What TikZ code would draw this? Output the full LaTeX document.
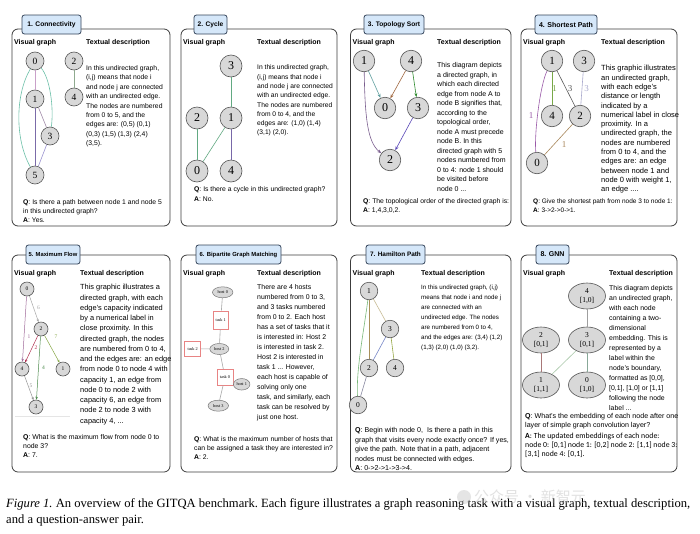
\documentclass[tikz,border=0pt]{standalone}
\usepackage{fontspec}
\setmainfont{Liberation Sans}
\newfontfamily\sernum{Liberation Serif}
\newfontfamily\calib{Carlito}
\newfontfamily\cjkf{Noto Sans CJK SC}
\usetikzlibrary{arrows.meta,shapes.geometric}
\definecolor{tabfill}{HTML}{D5E7F9}
\definecolor{tabdraw}{HTML}{34445A}
\definecolor{boxdraw}{HTML}{3C3C3C}
\definecolor{nodefill}{HTML}{D8D8D8}
\definecolor{nodedraw}{HTML}{555555}
\definecolor{taskred}{HTML}{E88484}
\definecolor{cA}{HTML}{C9A0C9}
\definecolor{cB}{HTML}{6CC0A8}
\definecolor{cC}{HTML}{7B6BA8}
\definecolor{cD}{HTML}{A08AA8}
\definecolor{cE}{HTML}{9A92D0}
\definecolor{cF}{HTML}{8FAA8F}
\definecolor{cG}{HTML}{62A982}
\definecolor{cH}{HTML}{7868A8}
\definecolor{cI}{HTML}{5E9E9E}
\definecolor{cJ}{HTML}{A0673F}
\definecolor{cK}{HTML}{2E8B2E}
\definecolor{cL}{HTML}{5A48B8}
\definecolor{cM}{HTML}{7A5E8E}
\definecolor{cN}{HTML}{78A848}
\definecolor{cO}{HTML}{5A5A5A}
\definecolor{cP}{HTML}{A8A8CC}
\definecolor{cQ}{HTML}{9A5AA8}
\definecolor{cR}{HTML}{A8865A}
\definecolor{cS}{HTML}{A06A9A}
\definecolor{cT}{HTML}{A8A8A8}
\definecolor{cU}{HTML}{B03050}
\definecolor{cV}{HTML}{88A848}
\definecolor{cW}{HTML}{4A8A4A}
\definecolor{cX}{HTML}{78B878}
\definecolor{cY}{HTML}{A8905A}
\definecolor{cZ}{HTML}{C8BC96}
\definecolor{dA}{HTML}{7888C8}
\definecolor{dB}{HTML}{98A848}
\definecolor{dC}{HTML}{8888A0}
\definecolor{dD}{HTML}{A87878}
\definecolor{dE}{HTML}{A8C8A8}
\definecolor{dF}{HTML}{88A898}
\newcommand\fs[2]{\fontsize{#1}{#2}\selectfont}
\begin{document}
\begin{tikzpicture}[x=1pt,y=-1pt,
  panelbox/.style={draw=boxdraw, line width=0.8pt, rounded corners=6pt},
  tabbox/.style={draw=tabdraw, line width=0.8pt, fill=tabfill, rounded corners=2.5pt, inner sep=0pt, minimum height=19pt},
  hdr/.style={anchor=base west, inner sep=0pt, font=\fs{7}{8}\bfseries},
  desc/.style={anchor=north west, inner sep=0pt, align=left},
  gnode/.style={circle, draw=nodedraw, fill=nodefill, line width=0.6pt, inner sep=0pt, font=\sernum},
  gedge/.style={line width=0.6pt},
  arr/.style={-{Stealth[length=4pt,width=3pt]}, line width=0.6pt},
  sarr/.style={-{Stealth[length=3pt,width=2.4pt]}, line width=0.5pt},
  hostn/.style={ellipse, draw=nodedraw!80, fill=nodefill, line width=0.5pt, inner sep=0pt, font=\sernum\fs{4.3}{5}},
  taskn/.style={rectangle, draw=taskred, fill=white, line width=0.7pt, inner sep=0pt, font=\sernum\fs{4.3}{5}},
  elbl/.style={inner sep=0pt, font=\sernum\fs{9}{10}},
  slbl/.style={inner sep=0pt, font=\sernum\fs{5.5}{6}},
  gell/.style={ellipse, draw=nodedraw, fill=nodefill, line width=0.6pt, inner sep=0pt, minimum width=37pt, minimum height=26pt, align=center, font=\sernum\fs{7.5}{8.5}}
]
\useasboundingbox (0,0) rectangle (700,533);
\fill[white] (0,0) rectangle (700,533);

% ---------------- Panel 1 ----------------
\draw[panelbox] (12,29) rectangle (170,226);
\node[tabbox, minimum width=59pt, font=\fs{6.7}{8}\bfseries] (t1) at (51.5,24.5) {1. Connectivity};
\node[hdr] (h1a) at (14,44.5) {Visual graph};
\node[hdr] (h1b) at (86,44.5) {Textual description};
\begin{scope}[every node/.append style={gnode, minimum size=18pt, font=\sernum\fs{9.5}{10}}]
\node (p1n0) at (35,61) {0};
\node (p1n1) at (35,99) {1};
\node (p1n3) at (50,136) {3};
\node (p1n5) at (35,175) {5};
\node (p1n2) at (74,61) {2};
\node (p1n4) at (74,97) {4};
\end{scope}
\draw[gedge, cA] (p1n0) -- (p1n1);
\draw[gedge, cB] (p1n0) .. controls (15,95) and (15,140) .. (p1n5);
\draw[gedge, cB] (p1n0) .. controls (50,78) and (54,108) .. (p1n3);
\draw[gedge, cC] (p1n1) -- (p1n5);
\draw[gedge, cD] (p1n1) -- (p1n3);
\draw[gedge, cE] (p1n3) -- (p1n5);
\draw[gedge, cF] (p1n2) -- (p1n4);
\node[desc, font=\fs{6.8}{9.4}] (d1) at (86,65.4) {In this undirected graph,\\(i,j) means that node i\\and node j are connected\\with an undirected edge.\\The nodes are numbered\\from 0 to 5, and the\\edges are: (0,5) (0,1)\\(0,3) (1,5) (1,3) (2,4)\\(3,5).};
\node[desc, font=\fs{6.8}{8.9}] (q1) at (23,199.8) {\textbf{Q}: Is there a path between node 1 and node 5\\in this undirected graph?\\\textbf{A}: Yes.};

% ---------------- Panel 2 ----------------
\draw[panelbox] (181,29) rectangle (337,226);
\node[tabbox, minimum width=33pt, font=\fs{6.6}{8}\bfseries] (t2) at (210.5,24.5) {2. Cycle};
\node[hdr] (h2a) at (183,44.5) {Visual graph};
\node[hdr] (h2b) at (257,44.5) {Textual description};
\begin{scope}[every node/.append style={gnode, minimum size=22pt, font=\sernum\fs{12}{12}}]
\node (p2n3) at (231,66) {3};
\node (p2n2) at (197,118) {2};
\node (p2n1) at (231,118) {1};
\node (p2n0) at (197,171) {0};
\node (p2n4) at (231,171) {4};
\end{scope}
\draw[gedge, cG] (p2n3) -- (p2n1);
\draw[gedge, cG] (p2n2) -- (p2n0);
\draw[gedge, cG] (p2n1) -- (p2n0);
\draw[gedge, cH] (p2n1) -- (p2n4);
\node[desc, font=\fs{6.7}{9.3}] (d2) at (257,64.8) {In this undirected graph,\\(i,j) means that node i\\and node j are connected\\with an undirected edge.\\The nodes are numbered\\from 0 to 4, and the\\edges are: (1,0) (1,4)\\(3,1) (2,0).};
\node[desc, font=\fs{6.8}{9.2}] (q2) at (194,186.8) {\textbf{Q}: Is there a cycle in this undirected graph?\\\textbf{A}: No.};

% ---------------- Panel 3 ----------------
\draw[panelbox] (350.5,29) rectangle (511,226);
\node[tabbox, minimum width=60pt, font=\fs{6.6}{8}\bfseries] (t3) at (394,24.5) {3. Topology Sort};
\node[hdr] (h3a) at (352.5,44.5) {Visual graph};
\node[hdr] (h3b) at (437,44.5) {Textual description};
\begin{scope}[every node/.append style={gnode, minimum size=21.5pt, font=\sernum\fs{12}{12}}]
\node (p3n1) at (364,61) {1};
\node (p3n4) at (411,61) {4};
\node (p3n0) at (385,108) {0};
\node (p3n3) at (418,108) {3};
\node (p3n2) at (390,160) {2};
\end{scope}
\draw[arr, cI] (p3n1) -- (p3n0);
\draw[arr, cJ] (p3n4) -- (p3n0);
\draw[arr, cK] (p3n4) -- (p3n3);
\draw[arr, cL] (p3n3) -- (p3n2);
\draw[arr, cM] (p3n1) .. controls (365,115) and (367,142) .. (p3n2);
\node[desc, font=\fs{7}{9.5}] (d3) at (437,62.7) {This diagram depicts\\a directed graph, in\\which each directed\\edge from node A to\\node B signifies that,\\according to the\\topological order,\\node A must precede\\node B. In this\\directed graph with 5\\nodes numbered from\\0 to 4: node 1 should\\be visited before\\node 0 ...};
\node[desc, font=\fs{6.8}{8.4}] (q3) at (363,198.8) {\textbf{Q}: The topological order of the directed graph is:\\\textbf{A}: 1,4,3,0,2.};

% ---------------- Panel 4 ----------------
\draw[panelbox] (521,29) rectangle (677,226);
\node[tabbox, minimum width=62pt, font=\fs{7}{8}\bfseries] (t4) at (566,24.5) {4. Shortest Path};
\node[hdr] (h4a) at (523,44.5) {Visual graph};
\node[hdr] (h4b) at (601,44.5) {Textual description};
\begin{scope}[every node/.append style={gnode, minimum size=21.5pt, font=\sernum\fs{11}{11}}]
\node (p4n1) at (552,61) {1};
\node (p4n3) at (584,61) {3};
\node (p4n4) at (552,116) {4};
\node (p4n2) at (580,116) {2};
\node (p4n0) at (537,163) {0};
\end{scope}
\draw[gedge, cN] (p4n1) -- (p4n4);
\draw[gedge, cO] (p4n1) -- (p4n2);
\draw[gedge, cP] (p4n3) -- (p4n2);
\draw[gedge, cQ] (p4n1) .. controls (540,85) and (534,135) .. (p4n0);
\draw[gedge, cR] (p4n2) -- (p4n0);
\node[elbl, text=cN] (l4a) at (554.5,89) {1};
\node[elbl, text=cO] (l4b) at (570,89) {3};
\node[elbl, text=cP] (l4c) at (586.5,89) {3};
\node[elbl, text=cQ] (l4d) at (531,116) {1};
\node[elbl, text=cR] (l4e) at (564,144.5) {1};
\node[desc, font=\fs{7.5}{9.3}] (d4) at (601,65.2) {This graphic illustrates\\an undirected graph,\\with each edge's\\distance or length\\indicated by a\\numerical label in close\\proximity. In a\\undirected graph, the\\nodes are numbered\\from 0 to 4, and the\\edges are: an edge\\between node 1 and\\node 0 with weight 1,\\an edge ....};
\node[desc, font=\fs{6.5}{8.4}] (q4) at (533,198.8) {\textbf{Q}: Give the shortest path from node 3 to node 1:\\\textbf{A}: 3->2->0->1.};

% ---------------- Panel 5 ----------------
\draw[panelbox] (12,255) rectangle (170,472);
\node[tabbox, minimum width=54pt, font=\fs{5.8}{7}\bfseries] (t5) at (53,254.5) {5. Maximum Flow};
\node[hdr] (h5a) at (14,275.5) {Visual graph};
\node[hdr] (h5b) at (80,275.5) {Textual description};
\begin{scope}[every node/.append style={gnode, minimum size=14pt, font=\sernum\fs{5.5}{6}}]
\node (p5n0) at (27,289) {0};
\node (p5n2) at (41,329) {2};
\node (p5n4) at (22,369) {4};
\node (p5n1) at (63,369) {1};
\node (p5n3) at (36,407) {3};
\end{scope}
\draw[sarr, cS] (p5n0) -- (p5n4);
\draw[sarr, cT] (p5n0) -- (p5n2);
\draw[sarr, cU] (p5n2) -- (p5n4);
\draw[sarr, cV] (p5n2) -- (p5n1);
\draw[sarr, cW] (p5n2) -- (p5n3);
\draw[sarr, cT!90!black] (p5n4) -- (p5n3);
\node[slbl, text=cS] (l5a) at (29,337) {1};
\node[slbl, text=cT] (l5b) at (38.5,308) {6};
\node[slbl, text=cU] (l5c) at (36,348) {2};
\node[slbl, text=cV] (l5d) at (56,337) {7};
\node[slbl, text=cW] (l5e) at (43.5,368) {4};
\node[slbl, text=cT!90!black] (l5f) at (31,385.5) {5};
\draw[gray!20, line width=0.5pt] (15,416) -- (70,416);
\node[desc, font=\fs{7.4}{10.25}] (d5) at (80,284.4) {This graphic illustrates a\\directed graph, with each\\edge's capacity indicated\\by a numerical label in\\close proximity. In this\\directed graph, the nodes\\are numbered from 0 to 4,\\and the edges are: an edge\\from node 0 to node 4 with\\capacity 1, an edge from\\node 0 to node 2 with\\capacity 6, an edge from\\node 2 to node 3 with\\capacity 4, ...};
\node[desc, font=\fs{6.9}{8.6}] (q5) at (23,434.7) {\textbf{Q}: What is the maximum flow from node 0 to\\node 3?\\\textbf{A}: 7.};

% ---------------- Panel 6 ----------------
\draw[panelbox] (181,255) rectangle (337,472);
\node[tabbox, minimum width=85pt, font=\fs{5.9}{7}\bfseries] (t6) at (238.5,254.5) {6. Bipartite Graph Matching};
\node[hdr] (h6a) at (183,275.5) {Visual graph};
\node[hdr] (h6b) at (257,275.5) {Textual description};
\node[hostn, minimum width=20.5pt, minimum height=11pt] (host0) at (222.7,292.3) {host 0};
\node[taskn, minimum width=15.5pt, minimum height=18pt] (task1) at (220.7,320) {task 1};
\node[taskn, minimum width=16pt, minimum height=15pt] (task2) at (192.7,348.7) {task 2};
\node[hostn, minimum width=19pt, minimum height=11pt] (host2) at (219.3,349) {host 2};
\node[taskn, minimum width=16pt, minimum height=15.5pt] (task0) at (225,377.3) {task 0};
\node[hostn, minimum width=16.5pt, minimum height=11.5pt] (host1) at (241.7,384.3) {host 1};
\node[hostn, minimum width=20.5pt, minimum height=11pt] (host3) at (218.3,405.7) {host 3};
\draw[gedge, gray!70] (host0) -- (task1);
\draw[gedge, gray!70] (task1) -- (host2);
\draw[gedge, gray!70] (task2) -- (host2);
\draw[gedge, gray!70] (host2) -- (task0);
\draw[gedge, gray!70] (task0) -- (host1);
\draw[gedge, gray!70] (task0) -- (host3);
\node[desc, font=\fs{6.9}{10}] (d6) at (257,284.7) {There are 4 hosts\\numbered from 0 to 3,\\and 3 tasks numbered\\from 0 to 2. Each host\\has a set of tasks that it\\is interested in: Host 2\\is interested in task 2.\\Host 2 is interested in\\task 1 ... However,\\each host is capable of\\solving only one\\task, and similarly, each\\task can be resolved by\\just one host.};
\node[desc, font=\fs{6.8}{8.6}] (q6) at (194,436.8) {\textbf{Q}: What is the maximum number of hosts that\\can be assigned a task they are interested in?\\\textbf{A}: 2.};

% ---------------- Panel 7 ----------------
\draw[panelbox] (350.5,255) rectangle (511,472);
\node[tabbox, minimum width=59pt, font=\fs{6.4}{8}\bfseries] (t7) at (395.5,254.5) {7. Hamilton Path};
\node[hdr] (h7a) at (352.5,275.5) {Visual graph};
\node[hdr] (h7b) at (421,275.5) {Textual description};
\begin{scope}[every node/.append style={gnode, minimum size=17.5pt, font=\sernum\fs{7.5}{8}}]
\node (p7n1) at (369,291) {1};
\node (p7n3) at (390,329) {3};
\node (p7n2) at (369,368) {2};
\node (p7n4) at (395,368) {4};
\node (p7n0) at (358,405) {0};
\end{scope}
\draw[gedge, cX] (p7n1) .. controls (364,330) and (356,370) .. (p7n0);
\draw[gedge, cY] (p7n1) -- (p7n2);
\draw[gedge, cZ] (p7n1) -- (p7n3);
\draw[gedge, dA] (p7n3) -- (p7n2);
\draw[gedge, dB] (p7n3) -- (p7n4);
\draw[gedge, dC] (p7n2) -- (p7n0);
\node[desc, font=\fs{6.2}{10}] (d7) at (421,285) {In this undirected graph, (i,j)\\means that node i and node j\\are connected with an\\undirected edge. The nodes\\are numbered from 0 to 4,\\and the edges are: (3,4) (1,2)\\(1,3) (2,0) (1,0) (3,2).};
\node[desc, font=\fs{7.1}{9.5}] (q7) at (355,427.6) {\textbf{Q}: Begin with node 0,\ \ Is there a path in this\\graph that visits every node exactly once? If yes,\\give the path. Note that in a path, adjacent\\nodes must be connected with edges.\\\textbf{A}: 0->2->1->3->4.};

% ---------------- Panel 8 ----------------
\draw[panelbox] (521,255) rectangle (677,472);
\node[tabbox, minimum width=33pt, font=\fs{7}{8}\bfseries] (t8) at (552.5,254.5) {8. GNN};
\node[hdr] (h8a) at (523,275.5) {Visual graph};
\node[hdr] (h8b) at (609,275.5) {Textual description};
\node[gell] (p8n4) at (587,296) {4\\{}[1,0]};
\node[gell] (p8n2) at (541,340) {2\\{}[0,1]};
\node[gell] (p8n3) at (587,340) {3\\{}[0,1]};
\node[gell] (p8n1) at (541,385) {1\\{}[1,1]};
\node[gell] (p8n0) at (587,385) {0\\{}[1,0]};
\draw[gedge, gray!75] (p8n4) -- (p8n3);
\draw[gedge, dD] (p8n2) -- (p8n1);
\draw[gedge, dE] (p8n3) -- (p8n1);
\draw[gedge, dF] (p8n3) -- (p8n0);
\node[desc, font=\fs{6.9}{10}] (d8) at (609,285.7) {This diagram depicts\\an undirected graph,\\with each node\\containing a two-\\dimensional\\embedding. This is\\represented by a\\label within the\\node's boundary,\\formatted as [0,0],\\{}[0,1], [1,0] or [1,1]\\following the node\\label ...};
\node[desc, font=\fs{7.1}{9}] (q8) at (525,412.7) {\textbf{Q}: What's the embedding of each node after one\\layer of simple graph convolution layer?};
\node[desc, font=\calib\fs{7.8}{9}] (a8) at (525,432.5) {\textbf{A}: The updated embeddings of each node:\\node 0: [0,1] node 1: [0,2] node 2: [1,1] node 3:\\{}[3,1] node 4: [0,1].};

% ---------------- Caption ----------------
\node[anchor=base west, inner sep=0pt, font=\sernum\fs{12.6}{15}] (cap1) at (6,507) {\frenchspacing\makebox[684pt][s]{\textit{Figure 1.} An overview of the GITQA benchmark. Each figure illustrates a graph reasoning task with a visual graph, textual description,}};
\node[anchor=base west, inner sep=0pt, font=\sernum\fs{12.6}{15}] (cap2) at (6,523) {and a question-answer pair.};
\fill[gray!45, opacity=0.45] (464,497) circle (7pt);
\node[anchor=west, inner sep=0pt, font=\cjkf\fs{15}{17}, text=gray!50, opacity=0.45] (wm) at (474,497) {公众号\ ·\ 新智元};
\end{tikzpicture}
\end{document}
